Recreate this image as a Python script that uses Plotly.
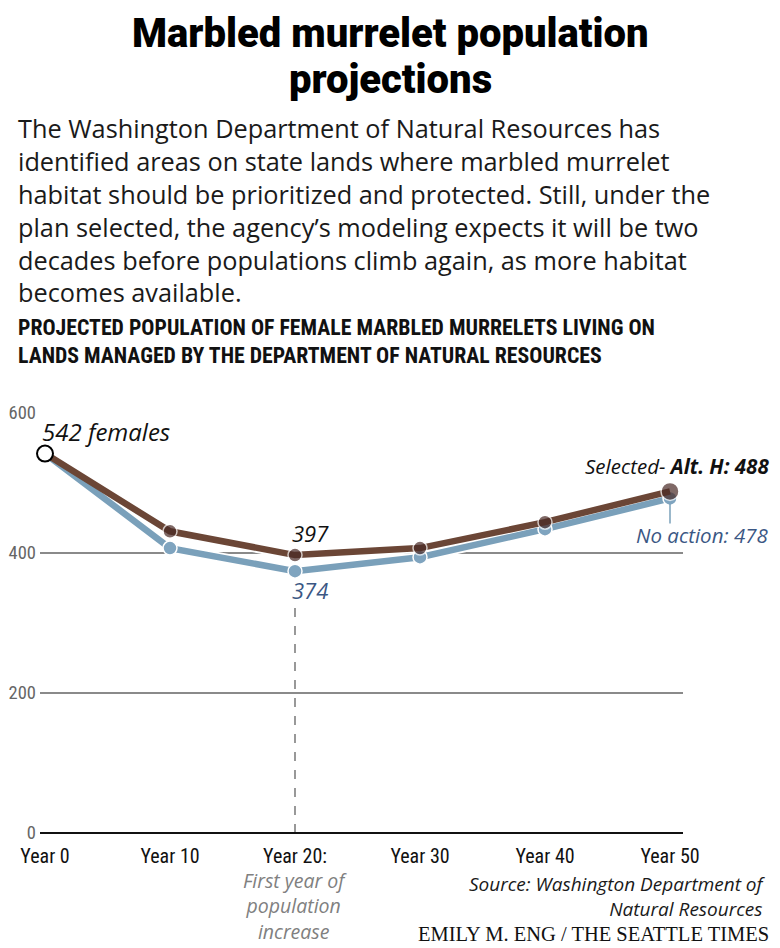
import plotly.graph_objects as go

years = [0, 10, 20, 30, 40, 50]
tick_labels = ["Year 0", "Year 10", "Year 20:", "Year 30", "Year 40", "Year 50"]
selected_alt_h = [542, 431, 397, 407, 444, 488]
no_action = [542, 407, 374, 394, 434, 478]
y_ticks = [0, 200, 400, 600]

OFF = 8  # page body margin
W, H = 780 - 2 * OFF, 948 - OFF
L, R, T, B = 40, 683, 413, 833  # plot area in page pixels

def px(x):
    return (x - L) / (R - L)

def py(y):
    return (B - y) / (B - T)

BROWN_LINE = "#6b4636"
BROWN_DOT = "#4a2a26"
BLUE_LINE = "#7aa0ba"
BLUE_DOT = "#7fa4bf"
BLUE_TEXT = "#3b5784"
NARROW = "Liberation Sans Narrow, Arial Narrow, Roboto Condensed, sans-serif"
SANS = "Open Sans, sans-serif"

fig = go.Figure()

for series in (no_action, selected_alt_h):
    fig.add_trace(go.Scatter(x=years, y=series, mode="lines",
                             line=dict(color="white", width=10),
                             hoverinfo="skip", showlegend=False))
fig.add_trace(go.Scatter(x=years, y=no_action, mode="lines+markers",
                         line=dict(color=BLUE_LINE, width=6.5),
                         marker=dict(size=14, color=BLUE_DOT, line=dict(color="white", width=1.5)),
                         showlegend=False, cliponaxis=False))
fig.add_trace(go.Scatter(x=years, y=selected_alt_h, mode="lines+markers",
                         line=dict(color=BROWN_LINE, width=6.5),
                         marker=dict(size=[0, 14, 14, 14, 14, 18], color=BROWN_DOT,
                                     line=dict(color="white", width=1.5)),
                         showlegend=False, cliponaxis=False))
fig.add_trace(go.Scatter(x=years[:1], y=selected_alt_h[:1], mode="markers",
                         marker=dict(size=16, color="white", line=dict(color="black", width=2)),
                         showlegend=False, cliponaxis=False))

fig.add_shape(type="line", x0=years[2], x1=years[2], y0=0, y1=330,
              line=dict(color="#555", width=1.2, dash="dash"), layer="below")
fig.add_shape(type="line", x0=years[5], x1=years[5], y0=no_action[5] - 8, y1=442,
              line=dict(color=BLUE_LINE, width=1.5))

anns = []

def add(text, x, y, xanchor="left", yanchor="middle", size=20, color="#111",
        family=SANS, align="left", weight="normal"):
    anns.append(dict(text=text, x=px(x), y=py(y), xref="paper", yref="paper",
                     xanchor=xanchor, yanchor=yanchor, showarrow=False,
                     font=dict(size=size, color=color, family=family, weight=weight),
                     align=align))

add("Marbled murrelet population", 390, 33, xanchor="center",
    size=40, color="#000", family="Roboto, sans-serif", weight=900)
add("projections", 390, 80, xanchor="center",
    size=40, color="#000", family="Roboto, sans-serif", weight=900)

body = ["The Washington Department of Natural Resources has",
        "identified areas on state lands where marbled murrelet",
        "habitat should be prioritized and protected. Still, under the",
        "plan selected, the agency\u2019s modeling expects it will be two",
        "decades before populations climb again, as more habitat",
        "becomes available."]
add("<br>".join(body), 16, 210, size=25.3, color="#1a1a1a")

add("<b>PROJECTED POPULATION OF FEMALE MARBLED MURRELETS LIVING ON<br>"
    "LANDS MANAGED BY THE DEPARTMENT OF NATURAL RESOURCES</b>", 16, 341,
    size=21.8, color="#111", family=NARROW)

add("<i>542 females</i>", 40, 431, size=24)
add("<i>397</i>", 310, 533, xanchor="center", size=22)
add("<i>374</i>", 310, 590, xanchor="center", size=22, color=BLUE_TEXT)
add("<i>Selected- <b>Alt. H: 488</b></i>", 771, 466, xanchor="right", size=20.5)
add("<i>No action: 478</i>", 771, 535, xanchor="right", size=20.5, color=BLUE_TEXT)
add("<i>First year of<br>population<br>increase</i>", 295, 906, xanchor="center",
    size=19.5, color="#808080", align="center")
add("<i>Source: Washington Department of<br>Natural Resources</i>", 768, 896,
    xanchor="right", size=19, color="#1a1a1a", align="right")
add("EMILY M. ENG / THE SEATTLE TIMES", 771, 934, xanchor="right", size=20.5,
    color="#111", family="Liberation Serif, DejaVu Serif, serif")

fig.update_layout(
    width=W, height=H,
    margin=dict(l=L - OFF, r=W - (R - OFF), t=T - OFF, b=H - (B - OFF), pad=0, autoexpand=False),
    paper_bgcolor="white", plot_bgcolor="white",
    annotations=anns,
    xaxis=dict(range=[-0.4, 51.04], tickvals=years, ticktext=tick_labels, automargin=False,
               showgrid=False, zeroline=False, showline=False, ticks="", ticklabelstandoff=9,
               tickfont=dict(size=20, color="#111", family=NARROW)),
    yaxis=dict(range=[0, 600], tickvals=y_ticks, showgrid=True, automargin=False,
               gridcolor="#8a8a8a", gridwidth=1.5, zeroline=True, zerolinecolor="#111",
               zerolinewidth=2, showline=False, ticks="", ticklabelstandoff=3,
               tickfont=dict(size=18.5, color="#666", family=NARROW)),
)

fig.write_html("out.html")
